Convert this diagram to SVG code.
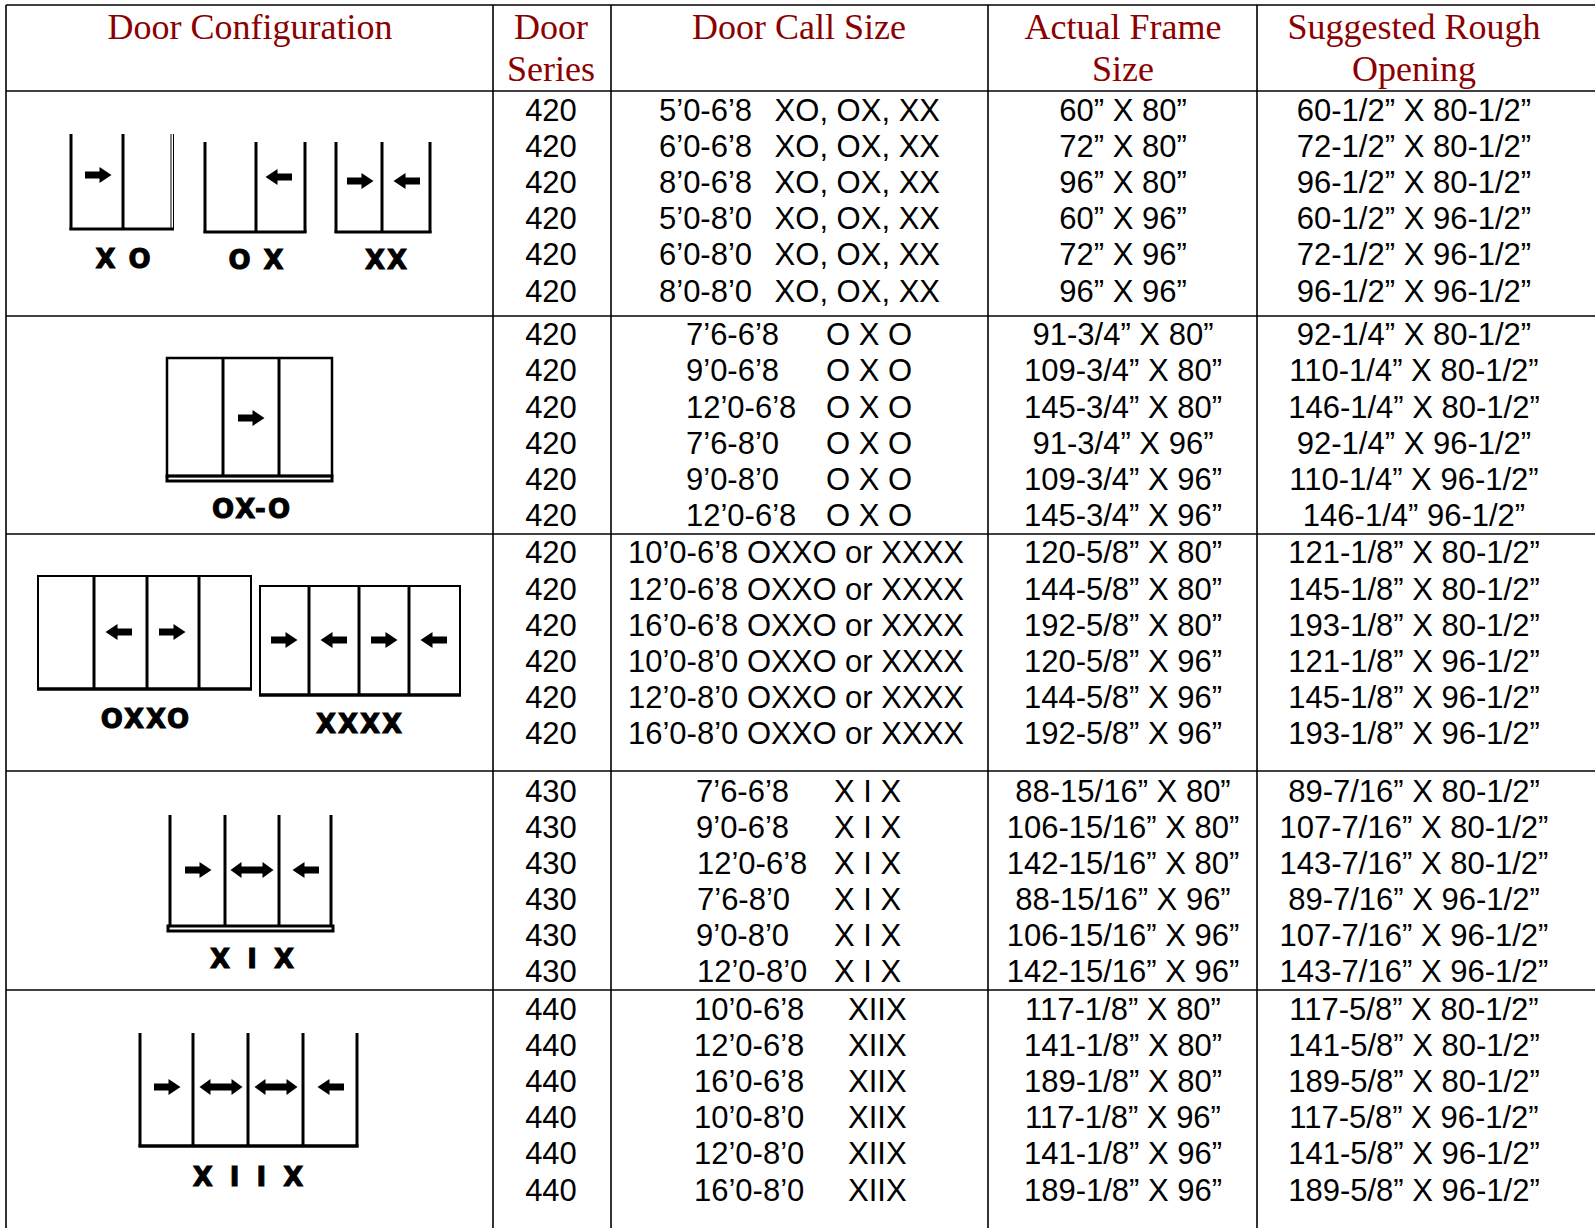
<svg xmlns="http://www.w3.org/2000/svg" xmlns:xlink="http://www.w3.org/1999/xlink" width="1595" height="1228" viewBox="0 0 1595 1228">
<style>
.grid line{stroke:#000;stroke-width:1.6}
.h{font-family:"Liberation Serif","Times New Roman",serif;font-size:36px;fill:#8b0000;text-anchor:middle}
.t{font-family:"Liberation Sans",Arial,sans-serif;font-size:31px;fill:#000}
.c{text-anchor:middle}
.e{text-anchor:end}
.fr line,.fr rect{stroke:#000;stroke-width:3;fill:none}
.lb{font-family:"DejaVu Sans",Verdana,sans-serif;font-weight:bold;font-size:26px;fill:#000;stroke:#000;stroke-width:1;text-anchor:middle;letter-spacing:2px}
.sill{fill:#c8c8c8;stroke:#444;stroke-width:1}
</style>
<defs>
<path id="ar" d="M-13,-3.5 H1.5 V-8 L13.5,0 L1.5,8 V3.5 H-13 Z" fill="#000"/>
<path id="al" d="M13,-3.5 H-1.5 V-8 L-13.5,0 L-1.5,8 V3.5 H13 Z" fill="#000"/>
<path id="ad" d="M-21.5,0 L-10.5,-8 V-3.5 H10.5 V-8 L21.5,0 L10.5,8 V3.5 H-10.5 V8 Z" fill="#000"/>
</defs>
<rect width="1595" height="1228" fill="#fff"/>
<g id="grid" class="grid">
<line x1="6" y1="5" x2="1595" y2="5"/>
<line x1="6" y1="91" x2="1595" y2="91"/>
<line x1="6" y1="316" x2="1595" y2="316"/>
<line x1="6" y1="534" x2="1595" y2="534"/>
<line x1="6" y1="771" x2="1595" y2="771"/>
<line x1="6" y1="990" x2="1595" y2="990"/>
<line x1="6" y1="5" x2="6" y2="1228"/>
<line x1="493" y1="5" x2="493" y2="1228"/>
<line x1="611" y1="5" x2="611" y2="1228"/>
<line x1="988" y1="5" x2="988" y2="1228"/>
<line x1="1257" y1="5" x2="1257" y2="1228"/>
</g>
<g id="header">
<text class="h" x="250" y="39">Door Configuration</text>
<text class="h" x="551" y="39">Door</text>
<text class="h" x="551" y="81">Series</text>
<text class="h" x="799" y="39">Door Call Size</text>
<text class="h" x="1123" y="39">Actual Frame</text>
<text class="h" x="1123" y="81">Size</text>
<text class="h" x="1414" y="39">Suggested Rough</text>
<text class="h" x="1414" y="81">Opening</text>
</g>
<g id="icon-xo-ox-xx" class="fr">
<line x1="71" y1="134" x2="71" y2="230"/>
<line x1="123" y1="134" x2="123" y2="230"/>
<line x1="171" y1="134" x2="171" y2="230" style="stroke-width:1"/>
<line x1="173.5" y1="134" x2="173.5" y2="230" style="stroke-width:1"/>
<line x1="69.5" y1="229" x2="174" y2="229"/>
<use xlink:href="#ar" x="98" y="175"/>
<line x1="205" y1="142" x2="205" y2="233"/>
<line x1="256" y1="142" x2="256" y2="233"/>
<line x1="305" y1="142" x2="305" y2="233"/>
<line x1="203.5" y1="232" x2="306.5" y2="232"/>
<use xlink:href="#al" x="279" y="177"/>
<line x1="336" y1="142" x2="336" y2="233"/>
<line x1="382" y1="142" x2="382" y2="233"/>
<line x1="430" y1="142" x2="430" y2="233"/>
<line x1="334.5" y1="232" x2="431.5" y2="232"/>
<use xlink:href="#ar" x="360" y="181"/>
<use xlink:href="#al" x="407" y="181"/>
<text class="lb" x="124" y="268">X O</text>
<text class="lb" x="257" y="269">O X</text>
<text class="lb" x="387" y="269">XX</text>
</g>
<g id="icon-oxo" class="fr">
<rect x="167" y="358" width="165" height="118" style="stroke-width:2.5"/>
<line x1="223" y1="358" x2="223" y2="476"/>
<line x1="279" y1="358" x2="279" y2="476"/>
<rect class="sill" x="167" y="476" width="165" height="5"/>
<use xlink:href="#ar" x="251" y="418"/>
<text class="lb" x="252" y="518">OX-O</text>
</g>
<g id="icon-oxxo-xxxx" class="fr">
<rect x="38" y="576" width="213" height="113" style="stroke-width:2"/>
<line x1="94" y1="576" x2="94" y2="689"/>
<line x1="147" y1="576" x2="147" y2="689"/>
<line x1="199" y1="576" x2="199" y2="689"/>
<line x1="37" y1="689" x2="252" y2="689" style="stroke-width:3.5"/>
<use xlink:href="#al" x="119" y="632"/>
<use xlink:href="#ar" x="172" y="632"/>
<rect x="260" y="586" width="200" height="109" style="stroke-width:2"/>
<line x1="309" y1="586" x2="309" y2="695"/>
<line x1="359" y1="586" x2="359" y2="695"/>
<line x1="409" y1="586" x2="409" y2="695"/>
<line x1="259" y1="695" x2="461" y2="695" style="stroke-width:3.5"/>
<use xlink:href="#ar" x="284" y="640"/>
<use xlink:href="#al" x="334" y="640"/>
<use xlink:href="#ar" x="384" y="640"/>
<use xlink:href="#al" x="434" y="640"/>
<text class="lb" x="146" y="728">OXXO</text>
<text class="lb" x="360" y="733">XXXX</text>
</g>
<g id="icon-xix" class="fr">
<line x1="170" y1="815" x2="170" y2="927"/>
<line x1="225" y1="815" x2="225" y2="927"/>
<line x1="279" y1="815" x2="279" y2="927"/>
<line x1="331" y1="815" x2="331" y2="927"/>
<rect class="sill" x="168" y="926" width="165" height="5"/>
<use xlink:href="#ar" x="198" y="870"/>
<use xlink:href="#ad" x="252" y="870"/>
<use xlink:href="#al" x="306" y="870"/>
<text class="lb" x="254" y="968" style="letter-spacing:4px">X I X</text>
</g>
<g id="icon-xiix" class="fr">
<line x1="140" y1="1033" x2="140" y2="1147"/>
<line x1="193" y1="1033" x2="193" y2="1147"/>
<line x1="248" y1="1033" x2="248" y2="1147"/>
<line x1="303" y1="1033" x2="303" y2="1147"/>
<line x1="357" y1="1033" x2="357" y2="1147"/>
<line x1="138.5" y1="1146" x2="358.5" y2="1146" style="stroke-width:3.5"/>
<use xlink:href="#ar" x="167" y="1087"/>
<use xlink:href="#ad" x="221" y="1087"/>
<use xlink:href="#ad" x="276" y="1087"/>
<use xlink:href="#al" x="331" y="1087"/>
<text class="lb" x="250" y="1186" style="letter-spacing:4px">X I I X</text>
</g>
<g id="row-420-xo" class="t">
<text class="c" x="551" y="121">420</text><text x="659" y="121">5’0-6’8</text><text class="e" x="940" y="121">XO, OX, XX</text><text class="c" x="1123" y="121">60” X 80”</text><text class="c" x="1414" y="121">60-1/2” X 80-1/2”</text>
<text class="c" x="551" y="157">420</text><text x="659" y="157">6’0-6’8</text><text class="e" x="940" y="157">XO, OX, XX</text><text class="c" x="1123" y="157">72” X 80”</text><text class="c" x="1414" y="157">72-1/2” X 80-1/2”</text>
<text class="c" x="551" y="193">420</text><text x="659" y="193">8’0-6’8</text><text class="e" x="940" y="193">XO, OX, XX</text><text class="c" x="1123" y="193">96” X 80”</text><text class="c" x="1414" y="193">96-1/2” X 80-1/2”</text>
<text class="c" x="551" y="229">420</text><text x="659" y="229">5’0-8’0</text><text class="e" x="940" y="229">XO, OX, XX</text><text class="c" x="1123" y="229">60” X 96”</text><text class="c" x="1414" y="229">60-1/2” X 96-1/2”</text>
<text class="c" x="551" y="265">420</text><text x="659" y="265">6’0-8’0</text><text class="e" x="940" y="265">XO, OX, XX</text><text class="c" x="1123" y="265">72” X 96”</text><text class="c" x="1414" y="265">72-1/2” X 96-1/2”</text>
<text class="c" x="551" y="302">420</text><text x="659" y="302">8’0-8’0</text><text class="e" x="940" y="302">XO, OX, XX</text><text class="c" x="1123" y="302">96” X 96”</text><text class="c" x="1414" y="302">96-1/2” X 96-1/2”</text>
</g>
<g id="row-420-oxo" class="t">
<text class="c" x="551" y="345">420</text><text x="686" y="345">7’6-6’8</text><text x="826" y="345">O X O</text><text class="c" x="1123" y="345">91-3/4” X 80”</text><text class="c" x="1414" y="345">92-1/4” X 80-1/2”</text>
<text class="c" x="551" y="381">420</text><text x="686" y="381">9’0-6’8</text><text x="826" y="381">O X O</text><text class="c" x="1123" y="381">109-3/4” X 80”</text><text class="c" x="1414" y="381">110-1/4” X 80-1/2”</text>
<text class="c" x="551" y="418">420</text><text x="686" y="418">12’0-6’8</text><text x="826" y="418">O X O</text><text class="c" x="1123" y="418">145-3/4” X 80”</text><text class="c" x="1414" y="418">146-1/4” X 80-1/2”</text>
<text class="c" x="551" y="454">420</text><text x="686" y="454">7’6-8’0</text><text x="826" y="454">O X O</text><text class="c" x="1123" y="454">91-3/4” X 96”</text><text class="c" x="1414" y="454">92-1/4” X 96-1/2”</text>
<text class="c" x="551" y="490">420</text><text x="686" y="490">9’0-8’0</text><text x="826" y="490">O X O</text><text class="c" x="1123" y="490">109-3/4” X 96”</text><text class="c" x="1414" y="490">110-1/4” X 96-1/2”</text>
<text class="c" x="551" y="526">420</text><text x="686" y="526">12’0-6’8</text><text x="826" y="526">O X O</text><text class="c" x="1123" y="526">145-3/4” X 96”</text><text class="c" x="1414" y="526">146-1/4” 96-1/2”</text>
</g>
<g id="row-420-oxxo" class="t">
<text class="c" x="551" y="563">420</text><text class="c" x="796" y="563">10’0-6’8 OXXO or XXXX</text><text class="c" x="1123" y="563">120-5/8” X 80”</text><text class="c" x="1414" y="563">121-1/8” X 80-1/2”</text>
<text class="c" x="551" y="600">420</text><text class="c" x="796" y="600">12’0-6’8 OXXO or XXXX</text><text class="c" x="1123" y="600">144-5/8” X 80”</text><text class="c" x="1414" y="600">145-1/8” X 80-1/2”</text>
<text class="c" x="551" y="636">420</text><text class="c" x="796" y="636">16’0-6’8 OXXO or XXXX</text><text class="c" x="1123" y="636">192-5/8” X 80”</text><text class="c" x="1414" y="636">193-1/8” X 80-1/2”</text>
<text class="c" x="551" y="672">420</text><text class="c" x="796" y="672">10’0-8’0 OXXO or XXXX</text><text class="c" x="1123" y="672">120-5/8” X 96”</text><text class="c" x="1414" y="672">121-1/8” X 96-1/2”</text>
<text class="c" x="551" y="708">420</text><text class="c" x="796" y="708">12’0-8’0 OXXO or XXXX</text><text class="c" x="1123" y="708">144-5/8” X 96”</text><text class="c" x="1414" y="708">145-1/8” X 96-1/2”</text>
<text class="c" x="551" y="744">420</text><text class="c" x="796" y="744">16’0-8’0 OXXO or XXXX</text><text class="c" x="1123" y="744">192-5/8” X 96”</text><text class="c" x="1414" y="744">193-1/8” X 96-1/2”</text>
</g>
<g id="row-430-xix" class="t">
<text class="c" x="551" y="802">430</text><text x="696" y="802">7’6-6’8</text><text x="834" y="802">X I X</text><text class="c" x="1123" y="802">88-15/16” X 80”</text><text class="c" x="1414" y="802">89-7/16” X 80-1/2”</text>
<text class="c" x="551" y="838">430</text><text x="696" y="838">9’0-6’8</text><text x="834" y="838">X I X</text><text class="c" x="1123" y="838">106-15/16” X 80”</text><text class="c" x="1414" y="838">107-7/16” X 80-1/2”</text>
<text class="c" x="551" y="874">430</text><text x="697" y="874">12’0-6’8</text><text x="834" y="874">X I X</text><text class="c" x="1123" y="874">142-15/16” X 80”</text><text class="c" x="1414" y="874">143-7/16” X 80-1/2”</text>
<text class="c" x="551" y="910">430</text><text x="697" y="910">7’6-8’0</text><text x="834" y="910">X I X</text><text class="c" x="1123" y="910">88-15/16” X 96”</text><text class="c" x="1414" y="910">89-7/16” X 96-1/2”</text>
<text class="c" x="551" y="946">430</text><text x="696" y="946">9’0-8’0</text><text x="834" y="946">X I X</text><text class="c" x="1123" y="946">106-15/16” X 96”</text><text class="c" x="1414" y="946">107-7/16” X 96-1/2”</text>
<text class="c" x="551" y="982">430</text><text x="697" y="982">12’0-8’0</text><text x="834" y="982">X I X</text><text class="c" x="1123" y="982">142-15/16” X 96”</text><text class="c" x="1414" y="982">143-7/16” X 96-1/2”</text>
</g>
<g id="row-440-xiix" class="t">
<text class="c" x="551" y="1020">440</text><text x="694" y="1020">10’0-6’8</text><text x="848" y="1020">XIIX</text><text class="c" x="1123" y="1020">117-1/8” X 80”</text><text class="c" x="1414" y="1020">117-5/8” X 80-1/2”</text>
<text class="c" x="551" y="1056">440</text><text x="694" y="1056">12’0-6’8</text><text x="848" y="1056">XIIX</text><text class="c" x="1123" y="1056">141-1/8” X 80”</text><text class="c" x="1414" y="1056">141-5/8” X 80-1/2”</text>
<text class="c" x="551" y="1092">440</text><text x="694" y="1092">16’0-6’8</text><text x="848" y="1092">XIIX</text><text class="c" x="1123" y="1092">189-1/8” X 80”</text><text class="c" x="1414" y="1092">189-5/8” X 80-1/2”</text>
<text class="c" x="551" y="1128">440</text><text x="694" y="1128">10’0-8’0</text><text x="848" y="1128">XIIX</text><text class="c" x="1123" y="1128">117-1/8” X 96”</text><text class="c" x="1414" y="1128">117-5/8” X 96-1/2”</text>
<text class="c" x="551" y="1164">440</text><text x="694" y="1164">12’0-8’0</text><text x="848" y="1164">XIIX</text><text class="c" x="1123" y="1164">141-1/8” X 96”</text><text class="c" x="1414" y="1164">141-5/8” X 96-1/2”</text>
<text class="c" x="551" y="1201">440</text><text x="694" y="1201">16’0-8’0</text><text x="848" y="1201">XIIX</text><text class="c" x="1123" y="1201">189-1/8” X 96”</text><text class="c" x="1414" y="1201">189-5/8” X 96-1/2”</text>
</g>
</svg>
